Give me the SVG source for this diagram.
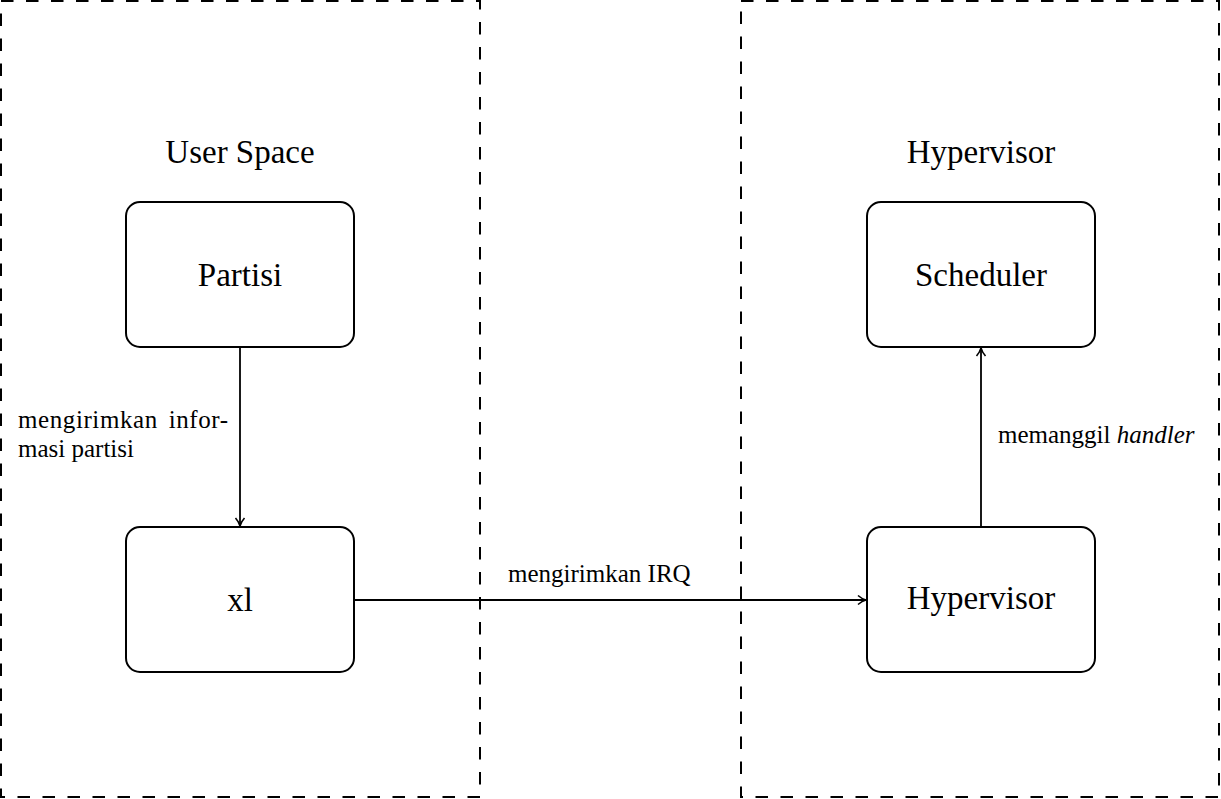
<svg xmlns="http://www.w3.org/2000/svg" width="1221" height="799" viewBox="0 0 1221 799">
<style>
.frame{fill:none;stroke:#000;stroke-width:2;stroke-dasharray:12.5 12.5}
.node{fill:#fff;stroke:#000;stroke-width:2}
.edge{fill:none;stroke:#000;stroke-width:1.8}
.big{font-size:33px;text-anchor:middle}
.lbl{font-size:25px}
</style>
<defs>
<marker id="arr" viewBox="0 0 12 12" refX="11" refY="6" markerWidth="12" markerHeight="12" markerUnits="userSpaceOnUse" orient="auto">
<path d="M3,1.5 Q7,5 11,6 Q7,7 3,10.5" fill="none" stroke="#000" stroke-width="1.6"/>
</marker>
</defs>
<g font-family="'Liberation Serif', 'Times New Roman', 'DejaVu Serif', serif" fill="#000">
<g id="userspace">
<rect class="frame" x="1" y="1" width="479" height="796"/>
<text class="big" x="240" y="163">User Space</text>
</g>
<g id="hypervisor-space">
<rect class="frame" x="741" y="1" width="478" height="796"/>
<text class="big" x="981" y="163">Hypervisor</text>
</g>
<g id="connectors">
<line class="edge" x1="240" y1="347" x2="240" y2="526" marker-end="url(#arr)"/>
<line class="edge" x1="354" y1="600" x2="866" y2="600" marker-end="url(#arr)"/>
<line class="edge" x1="981" y1="527" x2="981" y2="348" marker-end="url(#arr)"/>
<text class="lbl" x="18" y="428" font-size="26" word-spacing="4" textLength="210" lengthAdjust="spacing">mengirimkan infor-</text>
<text class="lbl" x="18" y="457" font-size="26">masi partisi</text>
<text class="lbl" x="508" y="582">mengirimkan IRQ</text>
<text class="lbl" x="998" y="443">memanggil <tspan font-style="italic">handler</tspan></text>
</g>
<g id="partisi">
<rect class="node" x="126" y="202" width="228" height="145" rx="14"/>
<text class="big" x="240" y="286">Partisi</text>
</g>
<g id="xl">
<rect class="node" x="126" y="527" width="228" height="145" rx="14"/>
<text class="big" x="240" y="611">xl</text>
</g>
<g id="scheduler">
<rect class="node" x="867" y="202" width="228" height="145" rx="14"/>
<text class="big" x="981" y="286">Scheduler</text>
</g>
<g id="hypervisor">
<rect class="node" x="867" y="527" width="228" height="145" rx="14"/>
<text class="big" x="981" y="609">Hypervisor</text>
</g>
</g>
</svg>
